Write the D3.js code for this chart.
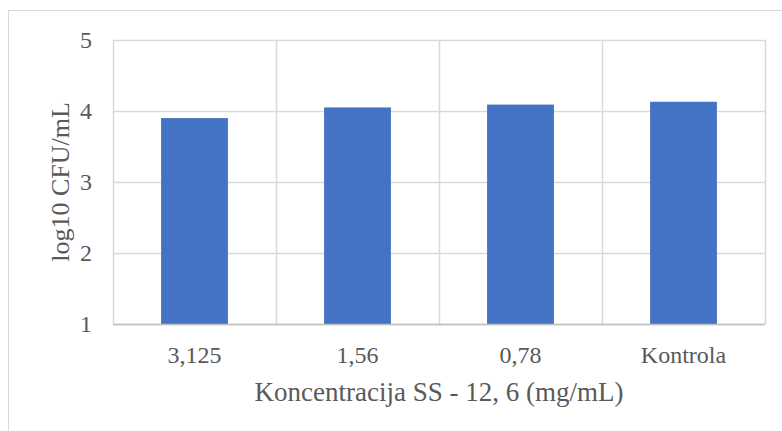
<!DOCTYPE html>
<html><head><meta charset="utf-8">
<script src="https://cdn.jsdelivr.net/npm/d3@7"></script>
<style>body{margin:0;background:#fff}svg{display:block}text{font-family:"Liberation Serif","Times New Roman",serif;fill:#595959}</style>
</head><body>
<script>
const categories = ["3,125", "1,56", "0,78", "Kontrola"];
const values = [3.90, 4.05, 4.09, 4.13];
const yTicks = [1, 2, 3, 4, 5];
const xTitle = "Koncentracija SS - 12, 6 (mg/mL)";
const yTitle = "log10 CFU/mL";

const W = 782, H = 431;
const m = {left: 113, right: 17, top: 40, bottom: 107};
const svg = d3.select("body").append("svg").attr("width", W).attr("height", H);

svg.append("rect").attr("x", 8.5).attr("y", 10.5).attr("width", W + 10).attr("height", H + 10)
  .attr("fill", "none").attr("stroke", "#d9d9d9");

const x = d3.scaleBand().domain(categories).range([m.left, W - m.right]).padding(0);
const y = d3.scaleLinear().domain([1, 5]).range([H - m.bottom, m.top]);

const g = svg.append("g");
g.selectAll(".hg").data(yTicks).join("line")
  .attr("x1", m.left).attr("x2", W - m.right)
  .attr("y1", d => Math.round(y(d)) + 0.5).attr("y2", d => Math.round(y(d)) + 0.5)
  .attr("stroke", "#d9d9d9").attr("stroke-width", 1.5);
const bounds = categories.map(c => x(c)).concat([x(categories[categories.length - 1]) + x.bandwidth()]);
g.selectAll(".vg").data(bounds).join("line")
  .attr("x1", d => Math.round(d) + 0.5).attr("x2", d => Math.round(d) + 0.5)
  .attr("y1", m.top).attr("y2", H - m.bottom)
  .attr("stroke", "#d9d9d9").attr("stroke-width", 1.5);

const bw = x.bandwidth() * 0.41;
g.selectAll(".bar").data(values).join("rect")
  .attr("x", (d, i) => x(categories[i]) + (x.bandwidth() - bw) / 2)
  .attr("y", d => y(d))
  .attr("width", bw)
  .attr("height", d => y(1) - y(d))
  .attr("fill", "#4472C4");

g.append("line").attr("x1", m.left).attr("x2", W - m.right)
  .attr("y1", Math.round(y(1)) + 0.5).attr("y2", Math.round(y(1)) + 0.5)
  .attr("stroke", "#bfbfbf").attr("stroke-width", 1.5);

const yAxis = d3.axisLeft(y).tickValues(yTicks).tickSize(0).tickPadding(21).tickFormat(d3.format("d"));
const ya = svg.append("g").attr("transform", `translate(${m.left},0)`).call(yAxis);
ya.select(".domain").remove();
ya.selectAll("text").attr("font-size", 24).style("font-family", "Liberation Serif").attr("fill", "#595959");

const xAxis = d3.axisBottom(x).tickSize(0).tickPadding(0);
const xa = svg.append("g").attr("transform", `translate(0,${H - m.bottom})`).call(xAxis);
xa.select(".domain").remove();
xa.selectAll("text").attr("font-size", 24).attr("y", 39).attr("dy", 0)
  .style("font-family", "Liberation Serif").attr("fill", "#595959");

svg.append("text").attr("x", (m.left + W - m.right) / 2).attr("y", 401)
  .attr("text-anchor", "middle").attr("font-size", 27).text(xTitle);
svg.append("text").attr("transform", `translate(60,${(m.top + H - m.bottom) / 2}) rotate(-90)`)
  .attr("text-anchor", "middle").attr("dominant-baseline", "central").attr("font-size", 26).text(yTitle);
</script>
</body></html>
